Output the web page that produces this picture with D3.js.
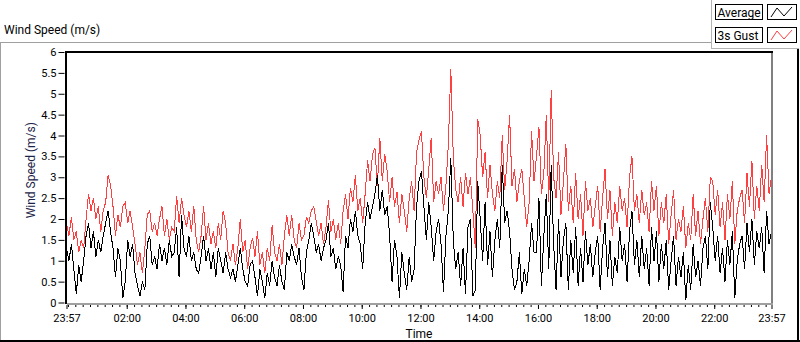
<!DOCTYPE html>
<html>
<head>
<meta charset="utf-8">
<script src="https://cdnjs.cloudflare.com/ajax/libs/d3/7.8.5/d3.min.js"></script>
<style>
	body { margin: 0; background: #fff; }
	svg text { font-family: Roboto, "Liberation Sans", sans-serif; fill: #000; }
</style>
</head>
<body>
<div id="chart"></div>
<script>
// one reading every 5 min, 23:57 -> 23:57 next day (289 points)
var startTime = "2014-03-10T23:57", stepMinutes = 5;

var average = [
	1.3, 1.0, 1.4, 0.8, 0.2, 0.9, 0.5, 1.0, 1.6, 1.9, 1.3, 1.7,
	1.1, 1.5, 1.2, 1.6, 1.9, 2.2, 1.7, 1.3, 0.6, 1.3, 1.0, 0.1,
	0.5, 1.5, 1.1, 1.4, 0.7, 0.4, 0.15, 0.5, 0.3, 1.4, 1.6, 0.9,
	1.1, 0.8, 1.4, 1.0, 1.3, 0.9, 1.5, 1.1, 1.2, 1.8, 0.6, 2.1,
	1.3, 1.1, 1.6, 1.0, 1.2, 0.8, 0.7, 1.1, 1.6, 1.0, 1.3, 0.8,
	1.2, 0.6, 1.3, 1.0, 0.7, 1.2, 0.8, 0.6, 0.8, 0.5, 0.9, 1.3,
	0.8, 0.5, 0.4, 0.9, 1.0, 0.6, 0.15, 0.8, 0.5, 0.1, 0.7, 0.4,
	1.0, 0.6, 0.4, 0.9, 0.5, 0.3, 1.2, 1.0, 1.4, 1.1, 0.9, 1.3,
	0.6, 0.3, 1.2, 1.5, 1.9, 1.6, 1.2, 1.4, 1.0, 1.3, 1.5, 1.9,
	1.1, 1.3, 0.8, 1.1, 0.9, 0.25, 1.6, 1.3, 2.0, 1.7, 2.2, 1.6,
	1.4, 0.8, 1.9, 2.4, 2.0, 2.3, 2.6, 3.05, 2.2, 2.7, 2.1, 2.3,
	1.6, 0.5, 1.5, 1.1, 0.1, 1.2, 0.7, 0.3, 1.1, 0.5, 0.8, 2.3,
	2.9, 3.15, 2.3, 1.5, 2.4, 1.8, 1.0, 1.7, 2.0, 1.4, 0.25, 1.6,
	2.2, 3.45, 1.5, 0.8, 1.2, 0.4, 1.3, 0.2, 1.8, 2.0, 0.15, 0.3,
	2.9, 2.0, 1.0, 2.4, 0.9, 1.7, 0.6, 1.5, 2.0, 1.3, 3.3, 1.9,
	2.2, 1.7, 0.8, 0.3, 0.5, 1.2, 0.2, 0.8, 0.4, 1.0, 1.9, 1.2,
	1.2, 2.5, 0.4, 1.6, 2.6, 0.8, 3.3, 1.4, 0.3, 2.0, 0.6, 1.5,
	1.9, 0.3, 1.5, 0.7, 1.8, 0.4, 1.3, 0.5, 1.7, 0.9, 1.4, 0.6,
	1.2, 1.6, 0.3, 1.3, 1.9, 0.6, 1.5, 0.4, 1.1, 0.7, 1.8, 1.0,
	1.4, 0.5, 1.7, 2.2, 0.9, 1.5, 0.6, 1.6, 0.8, 1.3, 0.4, 1.8,
	1.0, 1.7, 0.5, 1.4, 0.8, 1.5, 0.3, 1.0, 1.6, 0.4, 1.1, 0.6,
	1.2, 0.05, 0.9, 0.3, 1.4, 0.6, 1.0, 0.4, 1.3, 1.6, 0.8, 2.4,
	1.8, 1.0, 1.6, 0.7, 1.3, 0.5, 1.5, 0.9, 1.7, 0.1, 1.0, 1.4,
	1.6, 0.8, 1.9, 1.2, 2.0, 0.9, 1.7, 1.3, 1.8, 0.7, 2.2, 1.4, 1.7
];

var gust = [
	1.9, 1.6, 2.05, 1.5, 1.7, 1.2, 1.5, 1.3, 2.0, 2.6, 2.2, 2.5,
	2.0, 2.3, 1.7, 2.2, 2.4, 3.05, 2.8, 2.3, 1.6, 2.1, 1.8, 2.3,
	2.4, 1.9, 2.2, 1.8, 1.4, 0.9, 1.2, 0.7, 1.3, 2.1, 2.2, 1.7,
	1.9, 1.6, 2.0, 2.3, 1.6, 2.0, 1.5, 1.8, 1.7, 2.55, 1.9, 2.5,
	2.1, 1.8, 2.2, 1.7, 2.3, 1.5, 1.2, 1.6, 2.3, 1.5, 1.9, 1.4,
	1.7, 1.3, 1.9, 1.5, 2.2, 1.9, 1.2, 1.0, 1.4, 0.9, 1.3, 2.0,
	1.2, 1.5, 0.8, 1.3, 1.55, 1.1, 1.7, 0.9, 1.2, 0.7, 1.3, 1.0,
	1.85, 1.2, 1.0, 1.4, 0.9, 1.6, 2.1, 1.6, 2.1, 1.5, 1.3, 1.9,
	1.5, 1.6, 2.05, 1.9, 2.2, 2.3, 1.95, 1.6, 1.9, 1.4, 1.8, 2.45,
	1.7, 2.0, 1.5, 1.9, 1.4, 2.2, 2.6, 2.0, 2.75, 2.4, 3.05, 2.2,
	2.5, 1.9, 2.6, 3.4, 2.9, 3.55, 3.7, 2.8, 3.95, 2.9, 3.55, 3.15,
	2.4, 3.0, 2.3, 2.65, 1.9, 2.6, 2.2, 1.7, 2.5, 2.9, 2.2, 3.6,
	3.9, 4.1, 3.0, 2.5, 3.2, 3.95, 2.4, 2.9, 2.6, 3.0, 2.2, 2.8,
	3.8, 5.6, 3.5, 2.7, 2.4, 3.0, 2.3, 3.1, 2.6, 3.0, 2.2, 1.3,
	4.4, 4.0, 3.0, 3.6, 2.5, 3.3, 2.6, 2.2, 2.9, 2.5, 4.0, 2.7,
	3.4, 4.5, 2.8, 3.2, 2.4, 2.9, 3.2, 2.5, 1.8, 2.4, 4.1, 2.9,
	3.5, 4.2, 2.6, 3.1, 4.5, 2.4, 5.1, 3.0, 2.5, 3.6, 2.1, 2.9,
	3.8, 2.2, 2.8, 1.9, 3.1, 2.0, 2.6, 1.6, 2.9, 2.2, 2.5, 1.8,
	2.3, 2.8, 1.7, 2.5, 3.2, 2.0, 2.7, 1.6, 2.4, 1.9, 2.8, 2.2,
	2.5, 1.8, 3.0, 3.5, 2.2, 2.6, 1.9, 2.7, 2.1, 2.4, 1.7, 2.9,
	2.2, 2.8, 1.6, 2.4, 1.9, 2.6, 1.4, 2.1, 2.7, 1.5, 2.0, 1.7,
	2.3, 1.3, 1.9, 1.5, 2.6, 1.6, 2.2, 1.4, 2.0, 2.5, 1.7, 3.0,
	2.9, 2.1, 2.7, 1.8, 2.4, 1.5, 2.6, 2.0, 2.9, 1.4, 2.2, 2.5,
	2.7, 1.9, 3.1, 2.3, 3.4, 2.0, 2.8, 2.2, 3.3, 2.4, 4.0, 2.6, 3.0
];

var yTicks = [0, 0.5, 1, 1.5, 2, 2.5, 3, 3.5, 4, 4.5, 5, 5.5, 6];
var xMajorTicks = ["2014-03-10T23:57", "2014-03-11T02:00", "2014-03-11T04:00", "2014-03-11T06:00",
	"2014-03-11T08:00", "2014-03-11T10:00", "2014-03-11T12:00", "2014-03-11T14:00", "2014-03-11T16:00",
	"2014-03-11T18:00", "2014-03-11T20:00", "2014-03-11T22:00", "2014-03-11T23:57"];
var seriesNames = ["Average", "3s Gust"];

var WindGraph = function(view, plotWidth, plotHeight){
	const s = this;
	const
		LEFT = 66.5, RIGHT = 771.5,
		TOP = 52, BOTTOM = 302.5,
		AVG_COLOR = "#000000", GUST_COLOR = "#ff4040",
		FONT = "12px", TICK_FONT = "11px";

	var svg, x, y, times, parse = d3.timeParse("%Y-%m-%dT%H:%M");

	s.init = function(){
		s.putToView();
		s.drawFrames();
		s.translateAndScale();
		s.drawLines();
		s.drawAxes();
		s.drawLegend();
	}

	s.putToView = function(){
		svg = d3.select(view)
			.append("svg")
			.attr("width", plotWidth)
			.attr("height", plotHeight);
	}

	s.drawFrames = function(){
		// outer panel: light top/left, dark bottom/right
		svg.append("line").attr("x1", 0).attr("x2", 712).attr("y1", 42.5).attr("y2", 42.5).attr("stroke", "#a0a0a0");
		svg.append("line").attr("x1", 0.5).attr("x2", 0.5).attr("y1", 42).attr("y2", 342).attr("stroke", "#a0a0a0");
		svg.append("line").attr("x1", 0).attr("x2", 800).attr("y1", 341).attr("y2", 341).attr("stroke", "#000").attr("stroke-width", 2);
		svg.append("line").attr("x1", 798).attr("x2", 798).attr("y1", 48).attr("y2", 342).attr("stroke", "#000").attr("stroke-width", 2);
		// legend panel
		svg.append("line").attr("x1", 711.5).attr("x2", 711.5).attr("y1", 0).attr("y2", 49).attr("stroke", "#b4b4b4");
		svg.append("line").attr("x1", 711.5).attr("x2", 799).attr("y1", 48.5).attr("y2", 48.5).attr("stroke", "#b4b4b4");

		svg.append("text")
			.attr("x", 4).attr("y", 34)
			.style("font-size", FONT)
			.text("Wind Speed (m/s)");
	}

	s.translateAndScale = function(){
		var t0 = parse(startTime);
		times = average.map(function(d, i){ return d3.timeMinute.offset(t0, i * stepMinutes); });
		x = d3.scaleTime().domain([t0, times[times.length - 1]]).range([LEFT, RIGHT]);
		y = d3.scaleLinear().domain([0, 6]).range([BOTTOM, TOP]);
	}

	s.drawLines = function(){
		svg.append("clipPath").attr("id", "plotClip")
			.append("rect").attr("x", 65).attr("y", 51).attr("width", 708).attr("height", 253);

		var line = d3.line()
			.x(function(d, i){ return x(times[i]); })
			.y(function(d){ return y(d); });

		// LabVIEW draws aliased 1px traces
		var g = svg.append("g").attr("clip-path", "url(#plotClip)");
		g.append("path").datum(gust)
			.attr("d", line).attr("fill", "none")
			.attr("stroke", GUST_COLOR).attr("stroke-width", 1)
			.attr("shape-rendering", "crispEdges");
		g.append("path").datum(average)
			.attr("d", line).attr("fill", "none")
			.attr("stroke", AVG_COLOR).attr("stroke-width", 1)
			.attr("shape-rendering", "crispEdges");

		// plot area frame
		svg.append("line").attr("x1", 65).attr("x2", 773).attr("y1", 52).attr("y2", 52).attr("stroke", "#000").attr("stroke-width", 2);
		svg.append("line").attr("x1", 66).attr("x2", 66).attr("y1", 51).attr("y2", 304).attr("stroke", "#000").attr("stroke-width", 2);
		svg.append("line").attr("x1", 772).attr("x2", 772).attr("y1", 53).attr("y2", 305).attr("stroke", "#808080").attr("stroke-width", 2);
		svg.append("line").attr("x1", 67).attr("x2", 773).attr("y1", 304).attr("y2", 304).attr("stroke", "#a0a0a0").attr("stroke-width", 2);
	}

	s.drawAxes = function(){
		var yAxis = svg.append("g")
			.attr("transform", "translate(64.5,0)")
			.call(d3.axisLeft(y).tickValues(yTicks).tickSize(6).tickPadding(2).tickFormat(d3.format("~g")));
		yAxis.select(".domain").remove();
		yAxis.selectAll("text").style("font-size", TICK_FONT).style("font-family", null);

		var majors = xMajorTicks.map(parse);
		var minors = d3.timeMinute.every(15).range(majors[0], majors[majors.length - 1]);

		var minorAxis = svg.append("g")
			.attr("transform", "translate(0,305)")
			.call(d3.axisBottom(x).tickValues(minors).tickSize(2).tickFormat(""));
		minorAxis.select(".domain").remove();

		var xAxis = svg.append("g")
			.attr("transform", "translate(0,305)")
			.call(d3.axisBottom(x).tickValues(majors).tickSize(4).tickFormat(d3.timeFormat("%H:%M")));
		xAxis.select(".domain").remove();
		xAxis.selectAll("text").attr("y", 9).style("font-size", TICK_FONT).style("font-family", null);

		svg.append("text")
			.attr("x", (LEFT + RIGHT) / 2).attr("y", 338)
			.attr("text-anchor", "middle")
			.style("font-size", FONT)
			.text("Time");

		svg.append("text")
			.attr("transform", "translate(35," + ((TOP + BOTTOM) / 2 - 7) + ") rotate(-90)")
			.attr("text-anchor", "middle")
			.style("font-size", FONT)
			.style("fill", "#1c2448")
			.text("Wind Speed (m/s)");
	}

	s.drawLegend = function(){
		var colors = [AVG_COLOR, GUST_COLOR];
		var item = svg.selectAll(".legend")
			.data(seriesNames)
			.enter()
			.append("g")
			.attr("class", "legend")
			.attr("transform", function(d, i){ return "translate(0," + (i * 23) + ")"; });

		item.append("rect")
			.attr("x", 715.5).attr("y", 4.5).attr("width", 47).attr("height", 15)
			.attr("fill", "#fff").attr("stroke", "#000");
		item.append("text")
			.attr("x", 717.5).attr("y", 16.5)
			.style("font-size", FONT)
			.text(function(d){ return d; });
		item.append("rect")
			.attr("x", 767.5).attr("y", 4.5).attr("width", 29).attr("height", 15)
			.attr("fill", "#fff").attr("stroke", "#000");
		item.append("path")
			.attr("d", "M771,17L777,8L784,16L792,7")
			.attr("fill", "none")
			.attr("stroke", function(d, i){ return colors[i]; });
	}
}

new WindGraph("#chart", 800, 342).init();
</script>
</body>
</html>
